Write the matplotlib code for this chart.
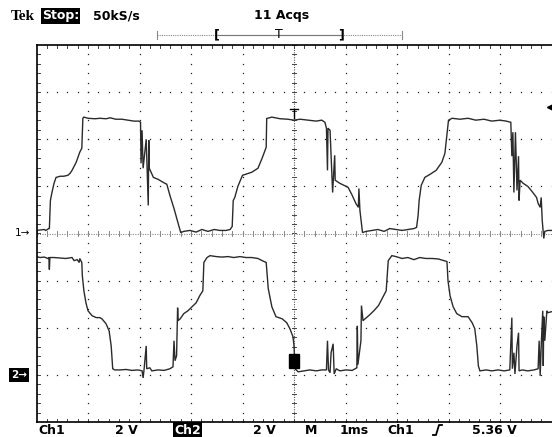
import matplotlib
matplotlib.use("Agg")
import matplotlib.pyplot as plt
import numpy as np

# ---- data: time (ms, 1 ms/div), volts (2 V/div) ----
ch1_t = [0.00,0.07,0.15,0.18,0.24,0.25,0.27,0.30,0.34,0.38,0.46,0.53,0.61,0.65,0.69,0.77,0.84,0.88,0.90,0.92,
         1.00,1.14,1.23,1.35,1.43,1.54,1.66,1.78,1.89,1.99,2.02,2.03,2.05,2.07,2.13,2.17,2.18,2.19,2.27,2.36,
         2.46,2.53,2.59,2.67,2.75,2.80,2.86,2.98,3.10,3.21,3.33,3.45,3.56,3.68,3.76,3.80,3.82,3.85,3.91,4.00,
         4.11,4.18,4.30,4.38,4.46,4.47,4.57,4.73,4.88,5.00,5.12,5.27,5.43,5.54,5.60,5.63,5.65,5.66,5.70,5.75,
         5.79,5.80,5.89,6.01,6.05,6.13,6.20,6.25,6.26,6.28,6.33,6.40,6.51,6.63,6.75,6.86,6.98,7.10,7.21,7.33,
         7.38,7.41,7.43,7.47,7.54,7.64,7.76,7.87,7.93,8.00,8.07,8.22,8.38,8.53,8.69,8.84,9.00,9.12,9.21,9.23,
         9.25,9.27,9.30,9.33,9.36,9.37,9.39,9.45,9.54,9.62,9.71,9.74,9.78,9.80,9.82,9.84,9.85,9.87,9.93,10.00]
ch1_v = [0.13,0.15,0.17,0.13,0.21,0.21,1.40,1.74,2.13,2.38,2.43,2.43,2.47,2.55,2.68,3.02,3.45,3.62,4.89,4.94,
         4.89,4.87,4.89,4.87,4.91,4.85,4.85,4.81,4.77,4.77,4.72,2.98,4.38,2.77,4.00,1.19,3.96,2.77,2.38,2.30,
         2.17,2.09,1.62,1.06,0.43,0.04,0.09,0.13,0.06,0.17,0.09,0.17,0.13,0.13,0.17,0.30,1.40,1.53,2.00,2.47,
         2.55,2.60,2.77,3.19,3.66,4.88,4.94,4.87,4.85,4.81,4.85,4.81,4.77,4.81,4.72,4.47,2.68,4.47,4.38,1.74,
         3.32,2.26,2.13,2.00,1.96,1.62,1.28,1.11,1.91,0.98,0.04,0.09,0.13,0.17,0.09,0.21,0.17,0.13,0.17,0.21,
         0.26,0.77,1.40,2.04,2.38,2.51,2.68,3.02,3.40,4.81,4.89,4.85,4.89,4.81,4.85,4.77,4.81,4.77,4.72,3.28,
         4.30,1.74,4.30,1.83,3.28,1.40,2.26,2.13,2.00,1.79,1.53,1.28,1.11,1.53,0.55,0.04,-0.21,0.09,0.13,0.13]

ch2_t = [0.00,0.07,0.15,0.22,0.24,0.25,0.26,0.34,0.46,0.57,0.69,0.73,0.79,0.83,0.84,0.88,0.89,0.92,0.96,1.00,
         1.08,1.16,1.23,1.27,1.35,1.41,1.45,1.48,1.52,1.62,1.74,1.85,1.97,2.05,2.07,2.09,2.13,2.14,2.20,2.24,
         2.36,2.48,2.59,2.65,2.67,2.69,2.72,2.74,2.75,2.79,2.86,2.94,3.02,3.10,3.17,3.23,3.25,3.31,3.37,3.49,
         3.60,3.72,3.83,3.95,4.07,4.18,4.30,4.38,4.46,4.48,4.50,4.57,4.65,4.77,4.86,4.92,4.98,5.00,5.02,5.08,
         5.19,5.31,5.43,5.54,5.63,5.65,5.67,5.70,5.72,5.76,5.78,5.82,5.89,6.01,6.13,6.22,6.23,6.24,6.30,6.31,
         6.34,6.38,6.47,6.55,6.64,6.71,6.79,6.83,6.90,6.98,7.10,7.21,7.33,7.44,7.56,7.68,7.80,7.91,7.97,7.99,
         8.03,8.09,8.16,8.26,8.38,8.46,8.51,8.55,8.58,8.61,8.73,8.84,8.96,9.08,9.19,9.23,9.24,9.27,9.29,9.33,
         9.36,9.37,9.43,9.54,9.66,9.74,9.76,9.78,9.80,9.83,9.84,9.85,9.87,9.91,9.93,10.00]
ch2_v = [5.02,4.98,5.00,4.94,4.98,4.47,4.98,4.98,4.96,4.94,4.98,4.85,4.89,4.77,4.94,4.77,4.21,3.57,3.06,2.72,
         2.51,2.43,2.43,2.38,2.17,1.87,1.23,0.26,0.21,0.21,0.23,0.19,0.21,0.17,-0.13,0.26,1.23,0.26,0.30,0.17,
         0.21,0.19,0.26,0.34,1.45,0.60,0.81,2.85,2.30,2.38,2.60,2.72,2.89,3.06,3.36,3.57,4.77,4.98,5.06,5.02,
         5.00,5.02,4.98,5.02,4.98,4.98,4.94,4.85,4.77,4.21,3.66,2.89,2.47,2.38,2.21,1.96,1.62,1.23,0.26,0.13,
         0.17,0.21,0.17,0.21,0.21,1.45,0.21,0.09,0.94,1.32,0.04,0.26,0.17,0.21,0.19,0.30,2.08,0.43,1.45,2.94,
         2.30,2.38,2.55,2.72,2.94,3.23,3.57,4.85,5.06,5.02,4.94,4.98,4.89,4.98,4.94,4.94,4.92,4.85,4.81,4.00,
         3.36,2.89,2.60,2.47,2.47,2.21,1.96,1.23,0.38,0.17,0.21,0.17,0.21,0.17,0.21,2.43,0.26,0.94,0.04,1.23,
         1.79,0.17,0.21,0.17,0.21,0.26,1.45,-0.04,1.23,2.72,0.38,2.47,1.45,2.72,2.64,2.68]

volts_per_div = 2.0
ch1_ground_div = 0.0
ch2_ground_div = -3.0
trigger_level_v = 5.36

W, H = 552, 437
fig = plt.figure(figsize=(W/100, H/100), dpi=100)
fig.patch.set_facecolor("white")
x0, x1, ytop, ybot = 36.5, 551.5, 45, 422
ax = fig.add_axes([x0/W, (H-ybot)/H, (x1-x0)/W, (ybot-ytop)/H])
ax.set_xlim(0, 10)
ax.set_ylim(-4, 4)
ax.set_xticks([]); ax.set_yticks([])
for s in ["left", "top", "bottom"]:
    ax.spines[s].set_linewidth(1.2)
    ax.spines[s].set_color("black")
ax.spines["right"].set_visible(False)

dot = dict(ls="none", marker="s", ms=0.9, color="#222222", mew=0)
# grid dots
for gx in [1, 2, 3, 4, 6, 7, 8, 9]:
    ys = np.arange(-4, 4.001, 0.2)
    ax.plot(np.full_like(ys, gx), ys, **dot)
for gy in [-3, -2, -1, 1, 2, 3]:
    xs = np.arange(0, 10.001, 0.2)
    ax.plot(xs, np.full_like(xs, gy), **dot)
# center lines (dense dotted with ticks)
ax.plot([5, 5], [-4, 4], color="#555555", lw=0.8, ls=(0, (1, 1.2)))
ax.plot([0, 10], [0, 0], color="#888888", lw=0.8, ls=(0, (1, 1.2)))
for yy in np.arange(-4, 4.001, 0.2):
    ax.plot([4.96, 5.04], [yy, yy], color="#444444", lw=0.7)
for xx in np.arange(0, 10.001, 0.2):
    ax.plot([xx, xx], [-0.045, 0.045], color="#888888", lw=0.7)
# edge ticks
for xx in np.arange(0.2, 10, 0.2):
    ax.plot([xx, xx], [4, 3.93], color="#444444", lw=0.7)
    ax.plot([xx, xx], [-4, -3.93], color="#444444", lw=0.7)
for yy in np.arange(-3.8, 4, 0.2):
    ax.plot([0, 0.06], [yy, yy], color="#444444", lw=0.7)

# traces
c1 = np.array(ch1_v) / volts_per_div + ch1_ground_div
c2 = np.array(ch2_v) / volts_per_div + ch2_ground_div
ax.plot(ch1_t, c1, color="#2b2b2b", lw=1.0, solid_joinstyle="miter")
ax.plot(ch2_t, c2, color="#2b2b2b", lw=1.0, solid_joinstyle="miter")

# trigger position marker on ch1
ax.plot([4.93, 5.07], [2.65, 2.65], color="black", lw=1.0)
ax.plot([5.0, 5.0], [2.65, 2.45], color="black", lw=1.0)
# black marker box on ch2
ax.add_patch(plt.Rectangle((4.9, ch2_ground_div + 0.15), 0.2, 0.3, color="black", zorder=5))
# trigger level arrow on right
ax.plot([9.98], [trigger_level_v / volts_per_div + ch1_ground_div], marker="<", ms=5,
        color="black", clip_on=False)

FS = 9

def ft(x, y, s, **kw):
    kw.setdefault("fontweight", "bold")
    kw.setdefault("fontsize", FS)
    fig.text(x / W, 1 - y / H, s, va="center", **kw)

# header
ft(11, 16, "Tek", fontsize=11, family="Liberation Serif")
ft(42, 16, "Stop:", color="white",
   bbox=dict(facecolor="black", edgecolor="none", pad=0.8))
ft(93, 16, "50kS/s")
ft(282, 16, "11 Acqs", ha="center")
# record bar
fig.add_artist(plt.Line2D([157/W, 402/W], [1-35/H, 1-35/H], color="#888888", lw=0.8, ls=(0, (1, 1))))
fig.add_artist(plt.Line2D([218/W, 341/W], [1-35/H, 1-35/H], color="#777777", lw=0.8))
for xe in (157, 402):
    fig.add_artist(plt.Line2D([xe/W, xe/W], [1-31/H, 1-39/H], color="#888888", lw=0.8))
ft(217, 35, "[", ha="center")
ft(279, 34, "T", ha="center", fontweight="normal")
ft(341, 35, "]", ha="center")

# channel ground markers
ft(15, 233, "1→", fontsize=7.5, fontweight="normal")
ft(11, 375, "2→", fontsize=7.5, color="white",
   bbox=dict(facecolor="black", edgecolor="none", pad=1.2))

# bottom readout
by = 430
ft(38, by, "Ch1")
ft(115, by, "2 V")
ft(174, by, "Ch2", color="white",
   bbox=dict(facecolor="black", edgecolor="none", pad=0.8))
ft(253, by, "2 V")
ft(305, by, "M")
ft(340, by, "1ms")
ft(387, by, "Ch1")
fig.add_artist(plt.Line2D([433/W, 436/W, 439/W, 442/W],
                          [1-435/H, 1-435/H, 1-425/H, 1-425/H], color="black", lw=1.3))
ft(472, by, "5.36 V")

fig.savefig("out.png", dpi=100, facecolor="white")
